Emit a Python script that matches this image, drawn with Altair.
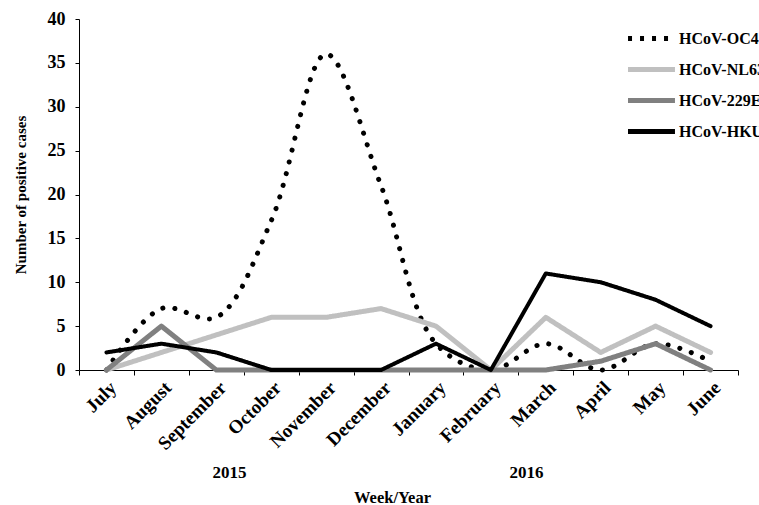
import altair as alt
import pandas as pd

# Monthly positive HCoV cases, July 2015 - June 2016
months = ["July", "August", "September", "October", "November", "December",
          "January", "February", "March", "April", "May", "June"]
series = ["HCoV-OC43", "HCoV-NL63", "HCoV-229E", "HCoV-HKU1"]
oc43 = [0, 7, 6, 17, 36, 21, 3, 0, 3, 0, 3, 1]
nl63 = [0, 2, 4, 6, 6, 7, 5, 0, 6, 2, 5, 2]
e229 = [0, 5, 0, 0, 0, 0, 0, 0, 0, 1, 3, 0]
hku1 = [2, 3, 2, 0, 0, 0, 3, 0, 11, 10, 8, 5]

line_colors = ["#000000", "#c0c0c0", "#808080", "#000000"]
legend_dashes = [[4, 8], [1, 0], [1, 0], [1, 0]]
line_widths = [5, 5, 5, 4]

rows = []
for name, vals in zip(series, [oc43, nl63, e229, hku1]):
    for m, v in zip(months, vals):
        rows.append({"month": m, "series": name, "cases": v})
df = pd.DataFrame(rows)

FONT = "Liberation Serif"

# Legend swatch: a horizontal stroke slightly longer than the unit square
legend = alt.Legend(
    title=None, orient="none", legendX=552, legendY=-1,
    symbolType="M-1.33,0L1.33,0", symbolSize=1246, symbolStrokeWidth=5,
    labelFont=FONT, labelFontSize=16, labelFontWeight="bold", labelColor="black",
    labelOffset=7, rowPadding=0, padding=0, labelLimit=200,
)

x_enc = alt.X(
    "month:N", sort=months, bandPosition=0.5,
    scale=alt.Scale(type="band", paddingInner=0, paddingOuter=0),
    axis=alt.Axis(
        title="Week/Year", tickBand="extent", labelAngle=-45,
        labelAlign="right", labelBaseline="top", labelPadding=3, labelFontSize=19,
        tickSize=5, titleX=313, titleY=127, titleBaseline="middle", titleFontSize=16.5,
    ),
)
y_enc = alt.Y(
    "cases:Q", scale=alt.Scale(domain=[0, 40], nice=False),
    axis=alt.Axis(values=list(range(0, 41, 5)), title="Number of positive cases",
                  tickSize=4, labelPadding=10, labelFontSize=18, titlePadding=19),
)
color_enc = alt.Color("series:N", scale=alt.Scale(domain=series, range=line_colors), legend=legend)
dash_enc = alt.StrokeDash("series:N", scale=alt.Scale(domain=series, range=legend_dashes), legend=legend)

# OC43 is drawn as a smoothed dotted curve; the rest are straight solid lines
oc43_layer = (
    alt.Chart(df)
    .transform_filter(alt.datum.series == "HCoV-OC43")
    .mark_line(strokeWidth=5, strokeCap="round", interpolate="catmull-rom", strokeDash=[0.1, 12])
    .encode(x=x_enc, y=y_enc, color=color_enc)
)
layers = [oc43_layer]
for name, w in zip(series[1:], line_widths[1:]):
    layers.append(
        alt.Chart(df)
        .transform_filter(alt.datum.series == name)
        .mark_line(strokeWidth=w, strokeCap="round", strokeJoin="round")
        .encode(x=x_enc, y=y_enc, color=color_enc, strokeDash=dash_enc)
    )

# Year labels beneath the month axis
years = pd.DataFrame({"month": ["September", "March"], "label": ["2015", "2016"]})
year_2015 = alt.Chart(years).transform_filter(alt.datum.label == "2015").mark_text(
    font=FONT, fontSize=17, fontWeight="bold", color="black", baseline="middle"
).encode(x=alt.X("month:N", sort=months, bandPosition=0.74), y=alt.value(454), text="label:N")
year_2016 = alt.Chart(years).transform_filter(alt.datum.label == "2016").mark_text(
    font=FONT, fontSize=17, fontWeight="bold", color="black", baseline="middle"
).encode(x=alt.X("month:N", sort=months, bandPosition=0.15), y=alt.value(454), text="label:N")

chart = (
    alt.layer(*layers, year_2015, year_2016)
    .properties(
        width=659, height=351,
        autosize=alt.AutoSizeParams(type="none"),
        padding={"left": 79, "top": 19, "right": 21, "bottom": 135},
    )
    .configure(background="white")
    .configure_view(stroke=None)
    .configure_axis(
        grid=False, domainColor="black", tickColor="black", domainWidth=1, tickWidth=1,
        labelFont=FONT, labelFontSize=16, labelFontWeight="bold", labelColor="black",
        titleFont=FONT, titleFontSize=15, titleFontWeight="bold", titleColor="black",
    )
)

chart.save("out.html", embed_options={"renderer": "svg", "actions": False})
